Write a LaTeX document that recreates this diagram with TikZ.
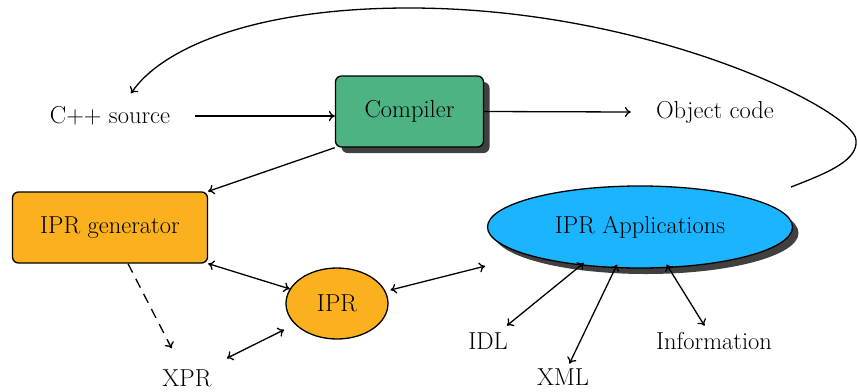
\documentclass[tikz,border=0pt]{standalone}
\usetikzlibrary{shapes.geometric,shadows,arrows.meta}
\definecolor{cgreen}{HTML}{4DB383}
\definecolor{corange}{HTML}{FBB11D}
\definecolor{cblue}{HTML}{1BB4FF}
\begin{document}
\begin{tikzpicture}[x=1pt,y=-1pt,
  every node/.style={font=\fontsize{24.5}{29}\selectfont},
  conn/.style={line width=1.3pt, -{To[length=6pt,width=10pt]}},
  both/.style={line width=1.3pt, {To[length=6pt,width=10pt]}-{To[length=6pt,width=10pt]}},
  lbl/.style={inner sep=3pt},
  box/.style={draw, line width=1.3pt, rounded corners=6pt, inner sep=0pt},
  oval/.style={draw, line width=1.3pt, ellipse, inner sep=0pt},
  shade/.style={drop shadow={shadow xshift=6pt, shadow yshift=-6pt, fill=black!75, opacity=1}},
]
\useasboundingbox (0,0) rectangle (858,391);

% nodes
\node[lbl] (src) at (110,116) {C++ source};
\node[box, shade, fill=cgreen, minimum width=148pt, minimum height=71pt] (comp) at (409.5,111.5) {Compiler};
\node[lbl] (obj) at (715,112) {Object code};
\node[box, fill=corange, minimum width=195pt, minimum height=71pt] (gen) at (110,227.5) {IPR generator};
\node[oval, fill=corange, minimum width=102pt, minimum height=71pt] (ipr) at (337,303.5) {IPR};
\node[oval, shade, fill=cblue, minimum width=305pt, minimum height=82pt] (app) at (640,227) {IPR Applications};
\node[lbl] (xpr) at (187,378) {XPR};
\node[lbl] (idl) at (488,341) {IDL};
\node[lbl] (xml) at (563,377) {XML};
\node[lbl] (info) at (714,341) {Information};
\coordinate (loopstart) at (791,187);

% connectors
\draw[conn] ([xshift=22pt]src.east) -- (src.east -| comp.west);
\draw[conn] (comp.east) -- ([xshift=-22pt]obj.west);
\draw[conn] (comp.south west) -- (gen.north east);
\draw[both] (gen.south east) -- (ipr);
\draw[both, shorten <=12pt, shorten >=18pt] (ipr) -- (xpr);
\draw[conn, dashed, dash pattern=on 10pt off 7pt, shorten >=20pt] ([xshift=18pt]gen.south) -- (xpr);
\draw[both, shorten <=5pt, shorten >=44pt] (ipr) -- (app);
\draw[both, shorten <=-4pt, shorten >=6pt] (app.213) -- (idl);
\draw[both, shorten <=-4pt, shorten >=2pt] (app.239) -- (xml);
\draw[both, shorten <=-4pt, shorten >=4pt] (app.305) -- (info);
\draw[conn] (loopstart) .. controls (830,172) and (858,160) .. (856,140)
  .. controls (854,110) and (650,8) .. (409,8)
  .. controls (250,8) and (160,50) .. ([xshift=21pt,yshift=10pt]src.north);
\end{tikzpicture}
\end{document}
